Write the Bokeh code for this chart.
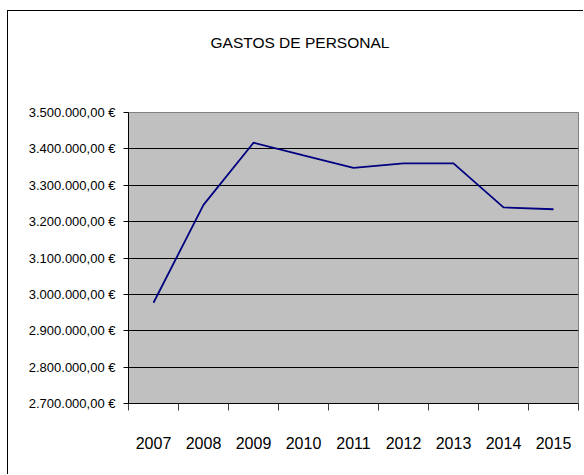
from bokeh.plotting import figure
from bokeh.models import FixedTicker, Range1d, Title
from bokeh.embed import file_html
from bokeh.resources import INLINE

years = [2007, 2008, 2009, 2010, 2011, 2012, 2013, 2014, 2015]
x_tick_labels = ["2007", "2008", "2009", "2010", "2011", "2012", "2013", "2014", "2015"]
gastos = [2977000, 3246000, 3417000, 3382000, 3348000, 3360000, 3360000, 3239000, 3234000]
y_ticks = [2700000, 2800000, 2900000, 3000000, 3100000, 3200000, 3300000, 3400000, 3500000]
y_tick_labels = ["2.700.000,00 €", "2.800.000,00 €", "2.900.000,00 €", "3.000.000,00 €",
                 "3.100.000,00 €", "3.200.000,00 €", "3.300.000,00 €", "3.400.000,00 €",
                 "3.500.000,00 €"]
title_text = "GASTOS DE PERSONAL"

FONT = "Liberation Sans"

p = figure(width=576, height=464, output_backend="svg", toolbar_location=None,
           x_range=Range1d(years[0] - 0.5, years[-1] + 0.5),
           y_range=Range1d(y_ticks[0], y_ticks[-1]),
           min_border_left=120, min_border_right=6, min_border_top=101, min_border_bottom=72,
           background_fill_color="#C0C0C0", border_fill_color="white",
           outline_line_color="#808080")
p.styles = {"margin-left": "7px", "margin-top": "10px",
            "border-left": "1px solid #000000", "border-top": "1px solid #000000"}

# empty spacer between the plot area and the title, then the title itself
p.add_layout(Title(text=" ", text_font_size="1px", standoff=59), "above")
p.add_layout(Title(text=title_text, text_font=FONT, text_font_size="15.5px",
                   text_font_style="normal", text_color="black",
                   align="left", offset=82, standoff=0), "above")

# x axis: labels at category centres, tick marks at category boundaries
xa = p.xaxis[0]
xa.ticker = FixedTicker(ticks=years,
                        minor_ticks=[y - 0.5 for y in years] + [years[-1] + 0.5])
xa.major_label_overrides = {y: l for y, l in zip(years, x_tick_labels)}
xa.major_tick_in = 0
xa.major_tick_out = 0
xa.minor_tick_in = 0
xa.minor_tick_out = 7
xa.minor_tick_line_color = "#404040"
xa.axis_line_color = "black"
xa.major_label_standoff = 26
xa.major_label_text_font = FONT
xa.major_label_text_font_size = "16px"
xa.major_label_text_color = "black"

ya = p.yaxis[0]
ya.ticker = FixedTicker(ticks=y_ticks, minor_ticks=[])
ya.major_label_overrides = {t: l for t, l in zip(y_ticks, y_tick_labels)}
ya.major_tick_in = 0
ya.major_tick_out = 5
ya.major_tick_line_color = "black"
ya.axis_line_color = "black"
ya.major_label_standoff = 8
ya.major_label_text_font = FONT
ya.major_label_text_font_size = "13px"
ya.major_label_text_color = "black"

p.xgrid.visible = False
p.ygrid.grid_line_color = "black"
p.ygrid.grid_line_width = 1

p.line(years, gastos, line_color="#000080", line_width=1.8)

open("out.html", "w").write(file_html(p, INLINE))
